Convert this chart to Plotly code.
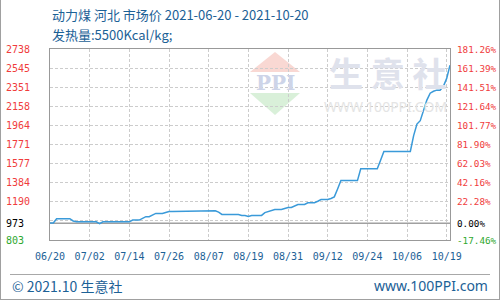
import pandas as pd
import plotly.graph_objects as go

# ---------------- data ----------------
all_days = pd.date_range("2021-06-20", "2021-10-20", freq="D")
missing_day = pd.Timestamp("2021-10-10")
dates = [d.strftime("%Y-%m-%d") for d in all_days if d != missing_day]

prices = [
    975, 975, 1019, 1019, 1019, 1019, 1019, 996, 987, 987,
    987, 987, 987, 987, 987, 968, 987, 987, 987, 987,
    987, 987, 987, 987, 987, 1005, 1005, 1005, 1022, 1039,
    1039, 1059, 1072, 1072, 1072, 1082, 1092, 1092, 1092, 1099,
    1099, 1099, 1099, 1099, 1099, 1099, 1099, 1099, 1099, 1099,
    1099, 1085, 1062, 1062, 1062, 1062, 1062, 1062, 1052, 1052,
    1042, 1052, 1052, 1052, 1052, 1080, 1092, 1102, 1112, 1112,
    1112, 1122, 1132, 1132, 1146, 1163, 1163, 1163, 1180, 1180,
    1180, 1196, 1213, 1213, 1213, 1223, 1240, 1320, 1405, 1405,
    1405, 1405, 1405, 1405, 1525, 1525, 1525, 1525, 1525, 1525,
    1610, 1700, 1700, 1700, 1700, 1700, 1700, 1700, 1700, 1700,
    1860, 1978, 2012, 2110, 2220, 2290, 2310, 2321, 2321, 2360,
    2440, 2573,
]

x_tick_dates = ["2021-06-20", "2021-07-02", "2021-07-14", "2021-07-26", "2021-08-07",
                "2021-08-19", "2021-08-31", "2021-09-12", "2021-09-24", "2021-10-06",
                "2021-10-19"]
x_tick_text = ["06/20", "07/02", "07/14", "07/26", "08/07", "08/19", "08/31",
               "09/12", "09/24", "10/06", "10/19"]

y_grid = [803, 996.5, 1190, 1383.5, 1577, 1770.5, 1964, 2157.5, 2351, 2544.5, 2738]
left_labels = ["2738", "2545", "2351", "2158", "1964", "1771", "1577", "1384", "1190", "973", "803"]
right_labels = ["181.26%", "161.39%", "141.51%", "121.64%", "101.77%", "81.90%",
                "62.03%", "42.16%", "22.28%", "0.00%", "-17.46%"]
base_value = 973
y_min, y_max = 803, 2738

title1 = "动力煤 河北 市场价 2021-06-20 - 2021-10-20"
title2 = "发热量:5500Kcal/kg;"

# ---------------- layout helpers ----------------
W, H = 500, 300
ML, MR, MT, MB = 50, 50, 49, 60
PW, PH = W - ML - MR, H - MT - MB


def px(x):
    return (x - ML) / PW


def py(y):
    return (H - MB - y) / PH


BLUE_TXT = "#1c6196"
RED = "#f03c3c"
GREEN = "#2ea82e"
MONO = "DejaVu Sans Mono"
CJK = "Noto Sans CJK SC"

fig = go.Figure()
fig.add_trace(go.Scatter(
    x=dates, y=prices, mode="lines",
    line=dict(color="#3a9ad9", width=1.5),
    hoverinfo="x+y", showlegend=False,
))

annotations = []
# left / right value labels
for val, lab in zip([float(v) for v in left_labels], left_labels):
    if lab == str(base_value):
        col = "#000000"
    elif float(lab) < base_value:
        col = GREEN
    else:
        col = RED
    annotations.append(dict(x=px(4), xref="paper", y=val, yref="y", text=lab,
                            showarrow=False, xanchor="left", yanchor="middle",
                            font=dict(family=MONO, size=10, color=col)))
for val, lab in zip([float(v) for v in left_labels], right_labels):
    if lab == "0.00%":
        col = "#000000"
    elif lab.startswith("-"):
        col = GREEN
    else:
        col = RED
    annotations.append(dict(x=px(455), xref="paper", y=val, yref="y", text=lab,
                            showarrow=False, xanchor="left", yanchor="middle",
                            font=dict(family=MONO, size=9.3, color=col)))

# titles
annotations += [
    dict(x=px(50), y=py(14.5), xref="paper", yref="paper", text=title1, showarrow=False,
         xanchor="left", yanchor="middle", font=dict(family=CJK, size=13, color=BLUE_TXT)),
    dict(x=px(50), y=py(34), xref="paper", yref="paper", text=title2, showarrow=False,
         xanchor="left", yanchor="middle", font=dict(family=CJK, size=13, color=BLUE_TXT)),
    dict(x=px(10), y=py(285.5), xref="paper", yref="paper", text="© 2021.10 生意社", showarrow=False,
         xanchor="left", yanchor="middle", font=dict(family=CJK, size=14, color=BLUE_TXT)),
    dict(x=px(490), y=py(285.5), xref="paper", yref="paper", text="www.100PPI.com", showarrow=False,
         xanchor="right", yanchor="middle", font=dict(family="Noto Sans", size=14, color=BLUE_TXT)),
    # watermark
    dict(x=px(387), y=py(72), xref="paper", yref="paper", text="生 意 社", showarrow=False,
         xanchor="center", yanchor="middle",
         font=dict(family=CJK, size=34, color="#dfe2ec", weight="bold")),
    dict(x=px(385), y=py(106), xref="paper", yref="paper", text="WWW.100PPI.COM", showarrow=False,
         xanchor="center", yanchor="middle", font=dict(family="Noto Sans", size=14, color="#e4e4e4")),
    dict(x=px(275), y=py(83), xref="paper", yref="paper", text="<b>PPI</b>", showarrow=False,
         xanchor="center", yanchor="middle", font=dict(family="DejaVu Serif", size=20, color="#cdd4e8")),
]


def tri(pts):
    s = "M " + " L ".join(f"{px(a):.4f},{py(b):.4f}" for a, b in pts) + " Z"
    return s


shapes = [
    # watermark triangles
    dict(type="path", xref="paper", yref="paper", path=tri([(275, 52), (250, 72), (300, 72)]),
         fillcolor="#f9d8d3", line=dict(width=0), layer="below"),
    dict(type="path", xref="paper", yref="paper", path=tri([(250, 93), (300, 93), (275, 115)]),
         fillcolor="#d9f0d9", line=dict(width=0), layer="below"),
    # baseline
    dict(type="line", xref="paper", yref="y", x0=0, x1=1, y0=base_value, y1=base_value,
         line=dict(color="#a0a0a0", width=1.5), layer="below"),
    # footer separator
    dict(type="line", xref="paper", yref="paper", x0=px(10), x1=px(490), y0=py(274.5), y1=py(274.5),
         line=dict(color="#a8a8a8", width=1)),
    # outer border (left, right, bottom)
    dict(type="line", xref="paper", yref="paper", x0=px(0.5), x1=px(0.5), y0=py(0), y1=py(299.5),
         line=dict(color="#a0a0a0", width=1)),
    dict(type="line", xref="paper", yref="paper", x0=px(499.5), x1=px(499.5), y0=py(0), y1=py(299.5),
         line=dict(color="#a0a0a0", width=1)),
    dict(type="line", xref="paper", yref="paper", x0=px(0), x1=px(500), y0=py(299.5), y1=py(299.5),
         line=dict(color="#a0a0a0", width=1)),
]

fig.update_layout(
    width=W, height=H,
    margin=dict(l=ML, r=MR, t=MT, b=MB, pad=0),
    paper_bgcolor="white", plot_bgcolor="white",
    showlegend=False,
    annotations=annotations,
    shapes=shapes,
    xaxis=dict(
        type="category", categoryorder="array", categoryarray=dates,
        range=[0, len(dates) - 1],
        tickmode="array", tickvals=x_tick_dates, ticktext=x_tick_text,
        tickfont=dict(family=MONO, size=10, color=BLUE_TXT),
        ticks="outside", ticklen=7, tickcolor="rgba(0,0,0,0)",
        showgrid=True, gridcolor="#cccccc", gridwidth=1, griddash="3px,2px",
        showline=True, linecolor="#999999", linewidth=1, mirror=True,
        zeroline=False, fixedrange=True,
    ),
    yaxis=dict(
        range=[y_min, y_max],
        tickmode="array", tickvals=y_grid, showticklabels=False, ticks="",
        showgrid=True, gridcolor="#cccccc", gridwidth=1, griddash="3px,2px",
        showline=True, linecolor="#999999", linewidth=1, mirror=True,
        zeroline=False, fixedrange=True,
    ),
)

fig.write_html("out.html")
